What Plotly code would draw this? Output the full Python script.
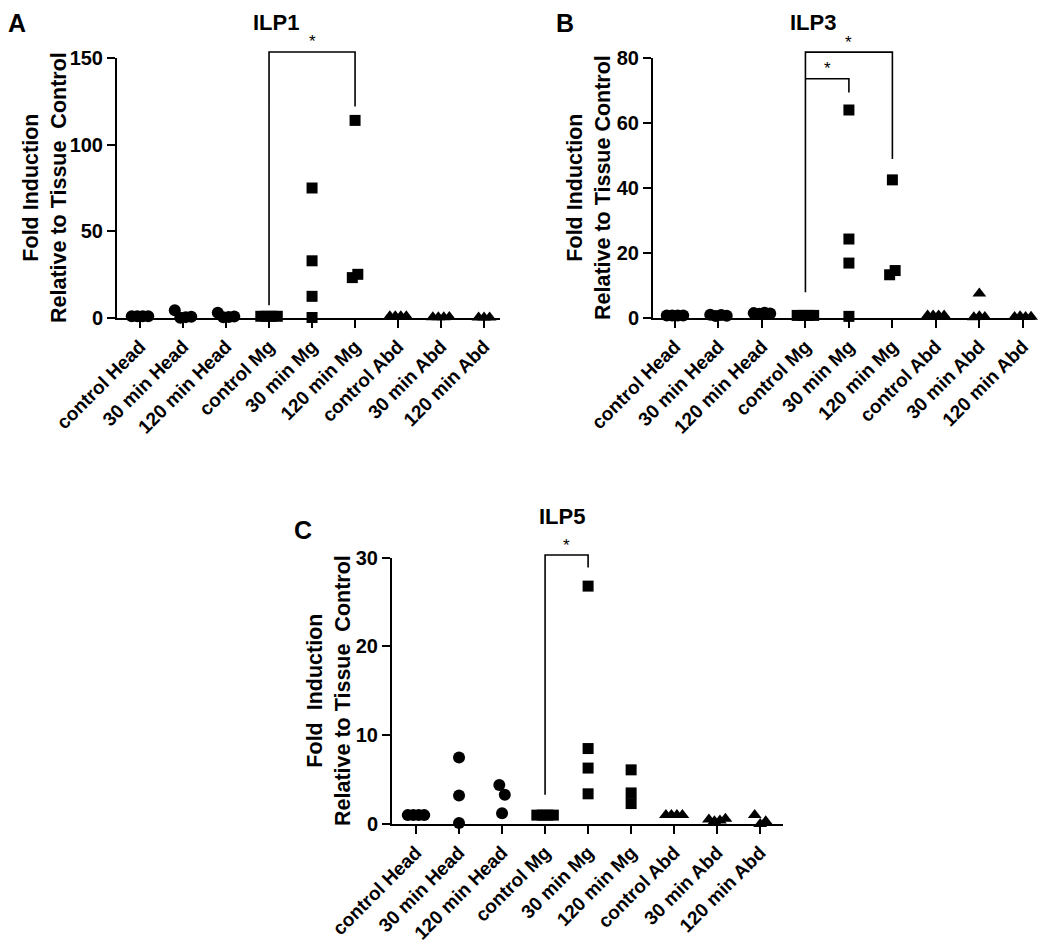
import plotly.graph_objects as go

FONT = "Arial, Liberation Sans, sans-serif"
W, H = 1050, 951
OFF = 8  # page body margin of the written html

categories = ["control Head", "30 min Head", "120 min Head", "control Mg", "30 min Mg",
              "120 min Mg", "control Abd", "30 min Abd", "120 min Abd"]
group_symbols = ["circle"] * 3 + ["square"] * 3 + ["triangle-up"] * 3

# Panel A - ILP1
ilp1 = [
    [1, 1, 1, 1],
    [4.5, 0.2, 0.5, 0.7],
    [3.0, 0.4, 0.6, 0.9],
    [1, 1, 1, 1],
    [75, 33, 12.5, 0.3],
    [23.3, 25.2, 114],
    [1, 1, 1, 1],
    [0.4, 0.5, 0.4, 0.6],
    [0.3, 0.3, 0.3],
]
# Panel B - ILP3
ilp3 = [
    [0.8, 0.8, 0.8, 0.8],
    [1.0, 0.6, 0.9, 0.7],
    [1.5, 1.3, 1.6, 1.4],
    [0.8, 0.8, 0.8, 0.8],
    [64, 24.3, 16.9, 0.5],
    [42.5, 13.3, 14.6],
    [0.8, 0.8, 0.8, 0.8],
    [7.5, 0.2, 0.5, 0.3],
    [0.3, 0.5, 0.3, 0.4],
]
# Panel C - ILP5
ilp5 = [
    [1, 1, 1, 1],
    [7.5, 3.2, 0.1],
    [4.4, 3.3, 1.2],
    [1, 1, 1, 1],
    [26.8, 8.5, 6.3, 3.4],
    [6.1, 2.3, 3.5],
    [1, 1, 1, 1],
    [0.5, 0.3, 0.4, 0.6],
    [1.0, 0.0, 0.3],
]

y_ticks_a = [0, 50, 100, 150]
y_ticks_b = [0, 20, 40, 60, 80]
y_ticks_c = [0, 10, 20, 30]

# significance brackets: (x_left, x_right, y_top, y_left_bottom, y_right_bottom)
brackets_a = [(3, 5, 153.5, 7.3, 122)]
brackets_b = [(3, 5, 81.8, 7.9, 48.9), (3, 4, 73.6, 73.6, 69.4)]
brackets_c = [(3, 4, 30.3, 3.3, 28.9)]

panels = [
    dict(name="ILP1", letter="A", data=ilp1, yticks=y_ticks_a, br=brackets_a,
         xdom_px=(117, 500), xrange=(-0.535, 8.37), ydom_px=(318, 58),
         title_px=(276, 22), letter_px=(17, 23), ytitle_px=(45, 188),
         ytitle="Fold Induction<br>Relative to Tissue\u00a0 Control"),
    dict(name="ILP3", letter="B", data=ilp3, yticks=y_ticks_b, br=brackets_b,
         xdom_px=(653, 1035), xrange=(-0.506, 8.28), ydom_px=(318, 58),
         title_px=(813, 22), letter_px=(565, 23), ytitle_px=(589, 188),
         ytitle="Fold Induction<br>Relative to Tissue Control"),
    dict(name="ILP5", letter="C", data=ilp5, yticks=y_ticks_c, br=brackets_c,
         xdom_px=(392, 783), xrange=(-0.558, 8.53), ydom_px=(824, 557.7),
         title_px=(562, 516), letter_px=(303, 530), ytitle_px=(329, 691),
         ytitle="Fold\u00a0 Induction<br>Relative to Tissue\u00a0 Control"),
]

EXT = 1.15  # headroom factor of the invisible bracket axis


def px_x(px):
    return (px - OFF) / W


def px_y(py):
    return 1 - (py - OFF) / H


def swarm_offsets(values, px_per_unit, px_per_cat, thr=10.5, step=5.5):
    n = len(values)
    parent = list(range(n))

    def find(a):
        while parent[a] != a:
            parent[a] = parent[parent[a]]
            a = parent[a]
        return a

    for i in range(n):
        for j in range(i + 1, n):
            if abs(values[i] - values[j]) * px_per_unit < thr:
                parent[find(i)] = find(j)
    clusters = {}
    for i in range(n):
        clusters.setdefault(find(i), []).append(i)
    offs = [0.0] * n
    for members in clusters.values():
        k = len(members)
        for j, idx in enumerate(members):
            offs[idx] = (j - (k - 1) / 2) * step / px_per_cat
    return offs


fig = go.Figure()
annotations = []
layout_axes = {}

for p_i, p in enumerate(panels, start=1):
    xa = "x" if p_i == 1 else f"x{p_i}"
    ya = "y" if p_i == 1 else f"y{p_i}"
    yb_name = f"y{p_i + 3}"
    x0p, x1p = p["xdom_px"]
    ybot, ytop = p["ydom_px"]
    xdom = [px_x(x0p), px_x(x1p)]
    ydom = [px_y(ybot), px_y(ytop)]
    ymax = p["yticks"][-1]
    px_per_unit = (ybot - ytop) / ymax
    px_per_cat = (x1p - x0p) / (p["xrange"][1] - p["xrange"][0])

    for g, vals in enumerate(p["data"]):
        offs = swarm_offsets(vals, px_per_unit, px_per_cat)
        sym = group_symbols[g]
        size = 11 if sym == "square" else 12
        fig.add_trace(go.Scatter(
            x=[g + o for o in offs], y=vals, mode="markers", xaxis=xa, yaxis=ya,
            marker=dict(symbol=sym, size=size, color="black", line=dict(width=0)),
            cliponaxis=False, showlegend=False, hoverinfo="skip"))

    axis_font = dict(family=FONT, size=20, color="black", weight="bold")
    layout_axes["xaxis" if p_i == 1 else f"xaxis{p_i}"] = dict(
        domain=xdom, range=list(p["xrange"]), anchor=ya, automargin=False,
        tickmode="array", tickvals=list(range(len(categories))), ticktext=categories,
        tickangle=-45, tickfont=dict(family=FONT, size=19, color="black", weight="bold"),
        showline=True, linewidth=2, linecolor="black", ticks="outside", ticklen=8,
        tickwidth=2, tickcolor="black", showgrid=False, zeroline=False, fixedrange=True)
    layout_axes["yaxis" if p_i == 1 else f"yaxis{p_i}"] = dict(
        domain=ydom, range=[0, ymax], anchor=xa, automargin=False,
        tickmode="array", tickvals=p["yticks"], tickfont=axis_font,
        showline=True, linewidth=2, linecolor="black", ticks="outside", ticklen=8,
        tickwidth=2, tickcolor="black", showgrid=False, zeroline=False, fixedrange=True)
    # invisible axis, same scale as the panel's y axis but with headroom for brackets
    layout_axes[f"yaxis{p_i + 3}"] = dict(
        domain=[ydom[0], ydom[0] + (ydom[1] - ydom[0]) * EXT], range=[0, ymax * EXT],
        anchor=xa, visible=False, automargin=False, fixedrange=True)

    for (bx0, bx1, btop, bl, br) in p["br"]:
        fig.add_trace(go.Scatter(
            x=[bx0, bx0, bx1, bx1], y=[bl, btop, btop, br], mode="lines",
            xaxis=xa, yaxis=yb_name, line=dict(color="black", width=1.6),
            showlegend=False, hoverinfo="skip"))
        annotations.append(dict(
            x=(bx0 + bx1) / 2, y=btop, xref=xa, yref=yb_name, text="*", showarrow=False,
            yshift=10, font=dict(family=FONT, size=17, color="black")))

    tx, ty = p["title_px"]
    annotations.append(dict(x=px_x(tx), y=px_y(ty), xref="paper", yref="paper",
                            text=p["name"], showarrow=False, xanchor="center", yanchor="middle",
                            font=dict(family=FONT, size=22, color="black", weight="bold")))
    lx, ly = p["letter_px"]
    annotations.append(dict(x=px_x(lx), y=px_y(ly), xref="paper", yref="paper",
                            text=p["letter"], showarrow=False, xanchor="center", yanchor="middle",
                            font=dict(family=FONT, size=25, color="black", weight="bold")))
    ax_, ay_ = p["ytitle_px"]
    annotations.append(dict(x=px_x(ax_), y=px_y(ay_), xref="paper", yref="paper",
                            text=p["ytitle"], showarrow=False, textangle=-90,
                            xanchor="center", yanchor="middle",
                            font=dict(family=FONT, size=21.5, color="black", weight="bold")))

fig.update_layout(
    width=W, height=H, autosize=False,
    margin=dict(l=0, r=0, t=0, b=0),
    paper_bgcolor="white", plot_bgcolor="rgba(0,0,0,0)",
    annotations=annotations, **layout_axes)

fig.write_html("out.html")
